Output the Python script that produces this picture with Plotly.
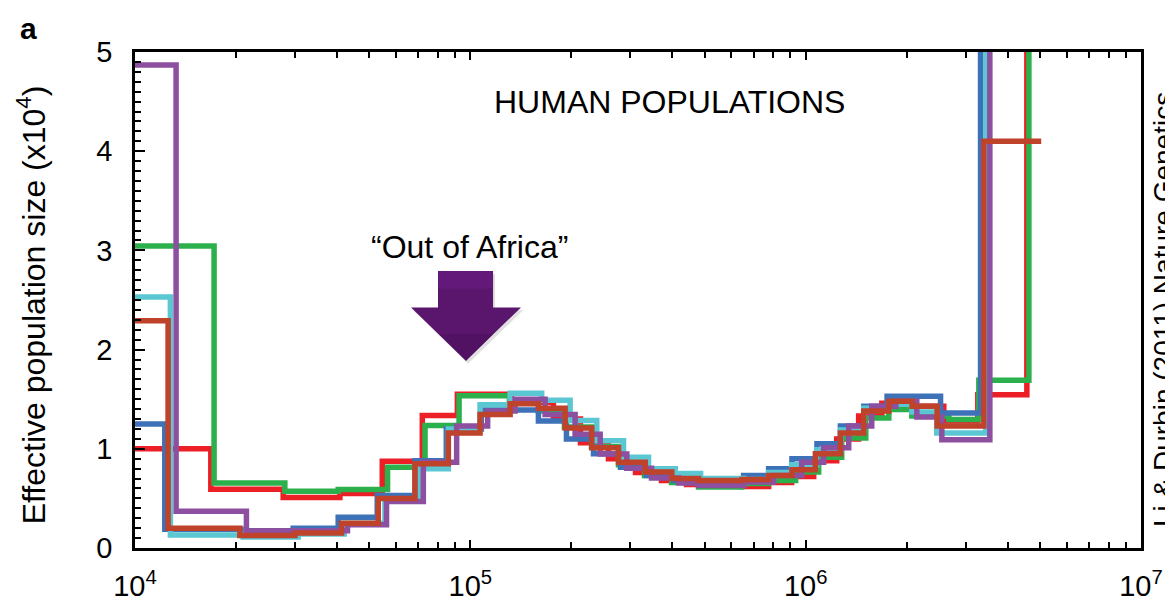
import plotly.graph_objects as go

# ---- data: PSMC step curves (time in years, Ne in units of 1e4) ----
red_t = [1e4, 16830, 27660, 40830, 54620, 71910, 91480, 132600, 176930, 213010, 258170,
         310840, 371610, 441360, 644200, 775500, 908200, 1056600, 1237400, 1439000,
         1687000, 2003000, 2582000, 3261000, 4567000, 4700000]
red_n = [1.00, 0.593, 0.51, 0.55, 0.875, 1.335, 1.55, 1.47, 1.30, 1.06, 0.90, 0.76, 0.68,
         0.64, 0.62, 0.66, 0.72, 0.88, 1.10, 1.33, 1.46, 1.43, 1.28, 1.545, 10]

green_t = [1e4, 17210, 27980, 40360, 56640, 73270, 92560, 130780, 159590, 190810, 229760,
           276600, 330670, 398110, 479300, 644200, 775500, 933500, 1093400, 1280800,
           1511000, 1770000, 2073000, 2673000, 3284000, 4631000, 4800000]
green_n = [3.045, 0.656, 0.573, 0.59, 0.815, 1.236, 1.535, 1.46, 1.38, 1.22, 1.02, 0.84,
           0.73, 0.66, 0.616, 0.65, 0.68, 0.765, 0.915, 1.11, 1.31, 1.395, 1.33, 1.295,
           1.69, 10]

blue_t = [1e4, 12270, 20720, 29630, 40360, 52770, 68390, 84800, 107850, 159590, 193470,
          232950, 280450, 335270, 403640, 653000, 775500, 910100, 1080700, 1269400,
          1490000, 1749000, 2525000, 3323000, 3400000]
blue_n = [1.25, 0.19, 0.13, 0.20, 0.31, 0.53, 0.88, 1.20, 1.39, 1.28, 1.10, 0.95, 0.815,
          0.73, 0.68, 0.73, 0.80, 0.90, 1.05, 1.23, 1.43, 1.53, 1.36, 10]

cyan_t = [1e4, 12750, 21010, 30670, 42060, 55650, 70800, 85970, 106900, 131420, 163230,
          198430, 238230, 286260, 339860, 408320, 486000, 653000, 775500, 908200,
          1078500, 1272000, 1490000, 1770000, 2073000, 2460000, 3446000, 3500000]
cyan_n = [2.53, 0.13, 0.11, 0.14, 0.25, 0.48, 0.80, 1.20, 1.445, 1.56, 1.49, 1.285, 1.08,
          0.915, 0.80, 0.75, 0.70, 0.69, 0.76, 0.84, 0.99, 1.19, 1.41, 1.45, 1.37, 1.16, 10]

purple_t = [1e4, 13260, 21490, 43020, 56250, 72410, 91030, 112620, 136000, 167110, 205350,
            243890, 292860, 346990, 417730, 479300, 653000, 802600, 973000, 1131600,
            1344000, 1574000, 1857000, 2145000, 2547000, 3542000, 3600000]
purple_n = [4.87, 0.37, 0.175, 0.235, 0.47, 0.865, 1.23, 1.38, 1.50, 1.345, 1.146, 0.947,
            0.805, 0.705, 0.656, 0.63, 0.666, 0.73, 0.865, 1.01, 1.23, 1.43, 1.48, 1.32,
            1.09, 10]

brown_t = [1e4, 12550, 20540, 29980, 41290, 53140, 68390, 85970, 106900, 131420, 159590,
           191740, 230230, 276600, 332270, 398930, 479300, 645500, 775500, 910100,
           1069000, 1269400, 1490000, 1770000, 2077000, 2466000, 3399000, 5040000]
brown_n = [2.29, 0.20, 0.126, 0.15, 0.25, 0.50, 0.85, 1.16, 1.345, 1.455, 1.41, 1.21, 1.01,
           0.865, 0.765, 0.70, 0.68, 0.69, 0.73, 0.79, 0.95, 1.16, 1.38, 1.48, 1.43, 1.23,
           4.10]

series = [
    (red_t, red_n, "#ec1f26"),
    (green_t, green_n, "#2cb04b"),
    (blue_t, blue_n, "#3e72b8"),
    (cyan_t, cyan_n, "#5bc7d2"),
    (purple_t, purple_n, "#8d4f9f"),
    (brown_t, brown_n, "#bf422b"),
]

x_major = [1e4, 1e5, 1e6, 1e7]
x_major_text = ["10<sup>4</sup>", "10<sup>5</sup>", "10<sup>6</sup>", "10<sup>7</sup>"]
x_minor = [m * 10 ** e for e in (4, 5, 6) for m in range(2, 10)]

FONT = "Liberation Sans, Arial, Helvetica, sans-serif"

fig = go.Figure()
for t, n, c in series:
    fig.add_trace(go.Scatter(
        x=t, y=list(n) + [n[-1]], mode="lines", line_shape="hv",
        line=dict(color=c, width=5.5), hoverinfo="skip", showlegend=False))

# block arrow ("Out of Africa") in paper coordinates
arrow = "M 0.3012 0.5586 L 0.3559 0.5586 L 0.3559 0.4851 L 0.3837 0.4851 L 0.3290 0.3777 L 0.2744 0.4851 L 0.3012 0.4851 Z"
shadow = "M 0.3032 0.5526 L 0.3579 0.5526 L 0.3579 0.4791 L 0.3857 0.4791 L 0.3310 0.3717 L 0.2764 0.4791 L 0.3032 0.4791 Z"
shaft_top = "M 0.3012 0.5586 L 0.3559 0.5586 L 0.3559 0.5229 L 0.3012 0.5229 Z"
tip = "M 0.3022 0.4314 L 0.3558 0.4314 L 0.3290 0.3777 Z"
fig.add_shape(type="path", path=shadow, xref="paper", yref="paper",
              fillcolor="rgba(0,0,0,0.12)", line=dict(width=0), layer="above")
fig.add_shape(type="path", path=arrow, xref="paper", yref="paper",
              fillcolor="#5a166c", line=dict(width=0), layer="above")
fig.add_shape(type="path", path=shaft_top, xref="paper", yref="paper",
              fillcolor="#62197a", line=dict(width=0), layer="above")
fig.add_shape(type="path", path=tip, xref="paper", yref="paper",
              fillcolor="#511263", line=dict(width=0), layer="above")

fig.update_layout(
    width=1173, height=606,
    margin=dict(l=127, r=40, t=44, b=59),
    paper_bgcolor="white", plot_bgcolor="white",
    font=dict(family=FONT, color="black", size=29),
    xaxis=dict(type="log", range=[4, 7], tickmode="array", tickvals=x_major,
               ticktext=x_major_text, ticks="inside", ticklen=8, tickwidth=2,
               tickcolor="black", showline=True, linewidth=2.8, linecolor="black",
               mirror="ticks", showgrid=False, zeroline=False,
               ticklabelstandoff=10,
               minor=dict(tickmode="array", tickvals=x_minor, ticks="inside",
                          ticklen=6, tickwidth=1.5, tickcolor="black", showgrid=False)),
    yaxis=dict(range=[0, 5], tickmode="linear", tick0=0, dtick=1, ticks="inside",
               ticklen=10, tickwidth=2, tickcolor="black", showline=True,
               linewidth=2.8, linecolor="black", mirror=True, showgrid=False,
               zeroline=False, ticklabelstandoff=14,
               minor=dict(dtick=0.1, ticks="inside", ticklen=6, tickwidth=1.5,
                          tickcolor="black", showgrid=False)),
)

fig.add_annotation(text="Effective population size (x10<sup>4</sup>)", textangle=-90,
                   xref="paper", yref="paper", x=-0.103, y=0.49, showarrow=False,
                   xanchor="center", yanchor="middle", font=dict(size=32))
fig.add_annotation(text="<b>a</b>", xref="paper", yref="paper", x=-0.106, y=1.085,
                   showarrow=False, xanchor="center", yanchor="top",
                   font=dict(size=30))
fig.add_annotation(text="HUMAN POPULATIONS", xref="paper", yref="paper", x=0.531,
                   y=0.899, showarrow=False, xanchor="center", yanchor="middle",
                   font=dict(size=32))
fig.add_annotation(text="\u201cOut of Africa\u201d", xref="paper", yref="paper", x=0.333,
                   y=0.607, showarrow=False, xanchor="center", yanchor="middle",
                   font=dict(size=32))
fig.add_annotation(text="Li & Durbin (2011) Nature Genetics", textangle=-90,
                   xref="paper", yref="paper", x=1.023, y=0.48, showarrow=False,
                   xanchor="center", yanchor="middle", font=dict(size=28))

fig.write_html("out.html")
